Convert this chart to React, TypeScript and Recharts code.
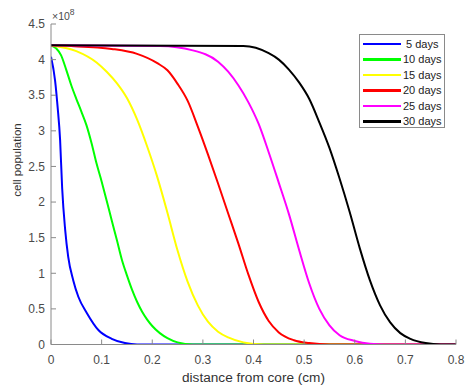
import React from 'react';
import { LineChart, Line, XAxis, YAxis, Legend } from 'recharts';

// readings: [distance (cm), cell population (x1e8)]
const days5 = [[0, 4.04], [0.008, 3.71], [0.013, 3.34], [0.018, 2.87], [0.022, 2.2], [0.028, 1.61], [0.034, 1.23], [0.044, 0.9], [0.054, 0.67], [0.071, 0.44], [0.094, 0.2], [0.12, 0.08], [0.146, 0.02], [0.17, 0], [0.8, 0]];
const days10 = [[0, 4.2], [0.01, 4.16], [0.02, 4.06], [0.03, 3.86], [0.04, 3.64], [0.05, 3.45], [0.06, 3.27], [0.07, 3.08], [0.08, 2.83], [0.09, 2.54], [0.1, 2.29], [0.11, 2.02], [0.12, 1.74], [0.13, 1.47], [0.14, 1.19], [0.15, 0.97], [0.16, 0.77], [0.17, 0.6], [0.18, 0.46], [0.19, 0.35], [0.2, 0.26], [0.215, 0.16], [0.23, 0.09], [0.25, 0.03], [0.28, 0], [0.8, 0]];
const days15 = [[0, 4.2], [0.05, 4.12], [0.09, 3.96], [0.11, 3.83], [0.13, 3.67], [0.15, 3.46], [0.17, 3.16], [0.19, 2.78], [0.21, 2.35], [0.23, 1.85], [0.25, 1.32], [0.27, 0.88], [0.29, 0.55], [0.31, 0.32], [0.33, 0.18], [0.35, 0.1], [0.38, 0.03], [0.42, 0], [0.8, 0]];
const days20 = [[0, 4.2], [0.04, 4.19], [0.12, 4.15], [0.17, 4.08], [0.21, 3.95], [0.23, 3.85], [0.25, 3.66], [0.27, 3.42], [0.29, 3.06], [0.31, 2.67], [0.33, 2.26], [0.35, 1.84], [0.37, 1.42], [0.39, 0.98], [0.41, 0.6], [0.43, 0.33], [0.45, 0.17], [0.48, 0.06], [0.51, 0.02], [0.55, 0], [0.8, 0]];
const days25 = [[0, 4.2], [0.215, 4.19], [0.28, 4.13], [0.33, 3.97], [0.35, 3.83], [0.37, 3.64], [0.39, 3.4], [0.41, 3.1], [0.43, 2.7], [0.45, 2.27], [0.47, 1.83], [0.49, 1.33], [0.51, 0.86], [0.53, 0.5], [0.55, 0.27], [0.57, 0.13], [0.6, 0.05], [0.63, 0.01], [0.66, 0], [0.8, 0]];
const days30 = [[0, 4.2], [0.38, 4.19], [0.43, 4.09], [0.45, 4.0], [0.47, 3.86], [0.49, 3.68], [0.51, 3.45], [0.53, 3.12], [0.55, 2.76], [0.57, 2.33], [0.59, 1.86], [0.61, 1.35], [0.63, 0.9], [0.65, 0.55], [0.67, 0.31], [0.69, 0.16], [0.71, 0.08], [0.74, 0.02], [0.77, 0], [0.8, 0]];

const seriesNames = [' 5 days', '10 days', '15 days', '20 days', '25 days', '30 days'];
const seriesColors = ['#0000ff', '#00ff00', '#ffff00', '#ff0000', '#ff00ff', '#000000'];
const xTicks = [0, 0.1, 0.2, 0.3, 0.4, 0.5, 0.6, 0.7, 0.8];
const yTicks = [0, 0.5, 1, 1.5, 2, 2.5, 3, 3.5, 4, 4.5];

const allSeries = [days5, days10, days15, days20, days25, days30];
const font = '"Liberation Sans", Arial, sans-serif';
const axisColor = '#8a8a8a';
const textColor = '#4a4a4a';

const toPoints = (pts: number[][]) => pts.map(([x, y]) => ({ x, y }));

function LegendBox() {
  return <div style={{
    border: '1px solid #8a8a8a',
    background: '#fff',
    width: 86,
    height: 94,
    boxSizing: 'border-box',
    paddingTop: 1,
    fontFamily: font,
    fontSize: 11,
    color: '#222'
  }}>
      {seriesNames.map((name, i) => <div key={name} style={{ display: 'flex', alignItems: 'center', height: 15.5, whiteSpace: 'pre' }}>
          <div style={{ marginLeft: 3, width: 38, height: 2.5, background: seriesColors[i] }} />
          <span style={{ marginLeft: 2 }}>{name}</span>
        </div>)}
    </div>;
}

export default function App() {
  return <div style={{ position: 'absolute', left: 0, top: 0, width: 471, height: 388, background: '#fff' }}>
      <LineChart width={471} height={388} margin={{ top: 24, right: 15, bottom: 13.5, left: 0 }}>
        <XAxis xAxisId="b" type="number" dataKey="x" domain={[0, 0.8]} ticks={xTicks} allowDataOverflow
          height={30} tickSize={-5} tickMargin={16} stroke={axisColor}
          tick={{ fill: textColor, fontSize: 12, fontFamily: font }}
          label={{ value: 'distance from core (cm)', content: () => <text x={253.5} y={382} textAnchor="middle" fill="#333" fontSize={12} fontFamily={font} textLength={143} lengthAdjust="spacingAndGlyphs">distance from core (cm)</text> }} />
        <XAxis xAxisId="t" orientation="top" type="number" domain={[0, 0.8]} ticks={xTicks} allowDataOverflow
          height={0} tickSize={-5} stroke={axisColor} tickFormatter={() => ''} />
        <YAxis yAxisId="l" type="number" domain={[0, 4.5]} ticks={yTicks} allowDataOverflow
          width={51} tickSize={-5} tickMargin={11} stroke={axisColor}
          tick={{ fill: textColor, fontSize: 12, fontFamily: font }}
          label={{ value: 'cell population', content: () => <text x={21} y={160} transform="rotate(-90 21 160)" textAnchor="middle" fill="#333" fontSize={11.5} fontFamily={font}>cell population</text> }} />
        <YAxis yAxisId="r" orientation="right" type="number" domain={[0, 4.5]} ticks={yTicks} allowDataOverflow
          width={0} tickSize={-5} stroke={axisColor} tickFormatter={() => ''} />
        {allSeries.map((s, i) => <Line key={seriesNames[i]} xAxisId="b" yAxisId="l" data={toPoints(s)} dataKey="y"
            name={seriesNames[i]} type="monotone" stroke={seriesColors[i]} strokeWidth={2} dot={false} isAnimationActive={false} />)}
        <Legend layout="vertical" align="center" verticalAlign="middle" content={() => <LegendBox />}
          wrapperStyle={{ position: 'absolute', left: 359, top: 34, width: 'auto' }} />
      </LineChart>
      <div style={{ position: 'absolute', left: 52, top: 10, fontFamily: font, fontSize: 10.5, color: textColor, whiteSpace: 'nowrap' }}>
        ×10<span style={{ fontSize: 8.5, position: 'relative', top: -5 }}>8</span>
      </div>
    </div>;
}
